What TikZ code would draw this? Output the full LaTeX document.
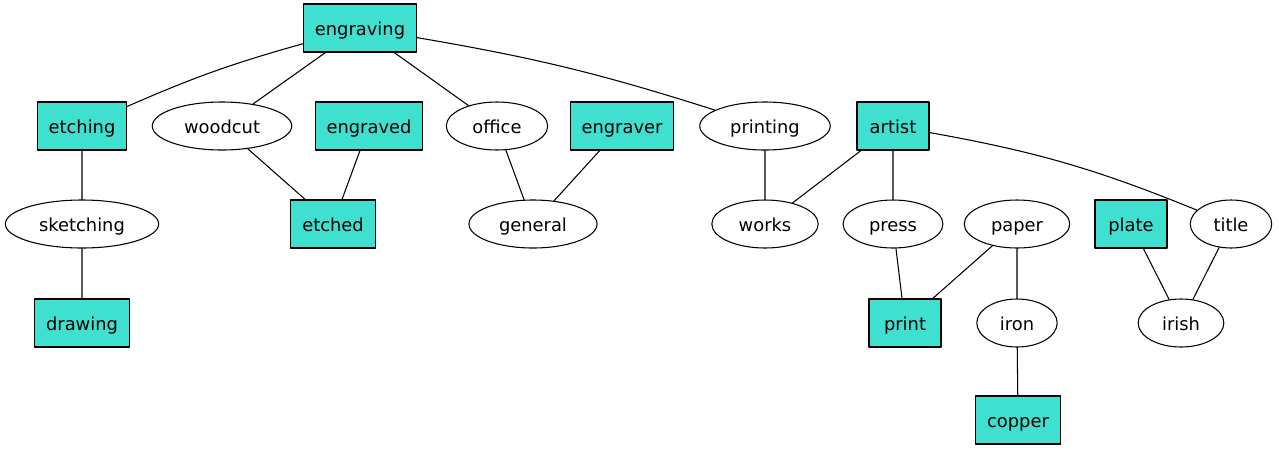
\documentclass[tikz,border=0pt]{standalone}
\usepackage{fontspec}
\setmainfont{DejaVu Sans}
\definecolor{turq}{HTML}{40E0D0}
\tikzset{
	kwbox/.style={draw,fill=turq,rectangle,minimum width=54pt,minimum height=36pt,inner xsep=8.5pt,text height=10.5pt,text depth=0pt},
	kwoval/.style={draw,ellipse,minimum width=54pt,minimum height=36pt,inner xsep=8.5pt,inner ysep=2pt,text height=10.5pt,text depth=0pt},
}
\usetikzlibrary{shapes.geometric}
\begin{document}
\begin{tikzpicture}[x=0.75pt,y=-0.75pt,line join=round,line cap=round,line width=0.8pt,font=\fontsize{13.4}{16}\selectfont]
			\useasboundingbox (0,0) rectangle (1279,451);
			% row 1
			\node[kwbox] (engraving) at (360,28) {engraving};
			% row 2
			\node[kwbox] (etching) at (82,126) {etching};
			\node[kwoval] (woodcut) at (222,126) {woodcut};
			\node[kwbox] (engraved) at (369,126) {engraved};
			\node[kwoval] (office) at (497,126) {office};
			\node[kwbox] (engraver) at (622,126) {engraver};
			\node[kwoval] (printing) at (765,126) {printing};
			\node[kwbox] (artist) at (893,126) {artist};
			% row 3
			\node[kwoval] (sketching) at (82,224) {sketching};
			\node[kwbox] (etched) at (333,224) {etched};
			\node[kwoval] (general) at (533,224) {general};
			\node[kwoval] (works) at (765,224) {works};
			\node[kwoval] (press) at (893,224) {press};
			\node[kwoval] (paper) at (1017,224) {paper};
			\node[kwbox] (plate) at (1131,224) {plate};
			\node[kwoval] (title) at (1231,224) {title};
			% row 4
			\node[kwbox] (drawing) at (82,323) {drawing};
			\node[kwbox] (print) at (905,323) {print};
			\node[kwoval] (iron) at (1017,323) {iron};
			\node[kwoval] (irish) at (1181,323) {irish};
			% row 5
			\node[kwbox] (copper) at (1018,420) {copper};
			% links
			\draw (engraving) to[bend right=4] (etching);
			\draw (engraving) to[bend left=4] (printing);
			\draw (artist) to[bend left=6] (title);
			\draw (engraving)--(woodcut) (engraving)--(office)
			(etching)--(sketching) (sketching)--(drawing)
			(woodcut)--(etched) (engraved)--(etched)
			(office)--(general) (engraver)--(general)
			(printing)--(works) (artist)--(works) (artist)--(press)
			(press)--(print) (paper)--(print) (paper)--(iron) (iron)--(copper)
			(plate)--(irish) (title)--(irish);
	\end{tikzpicture}
\end{document}
